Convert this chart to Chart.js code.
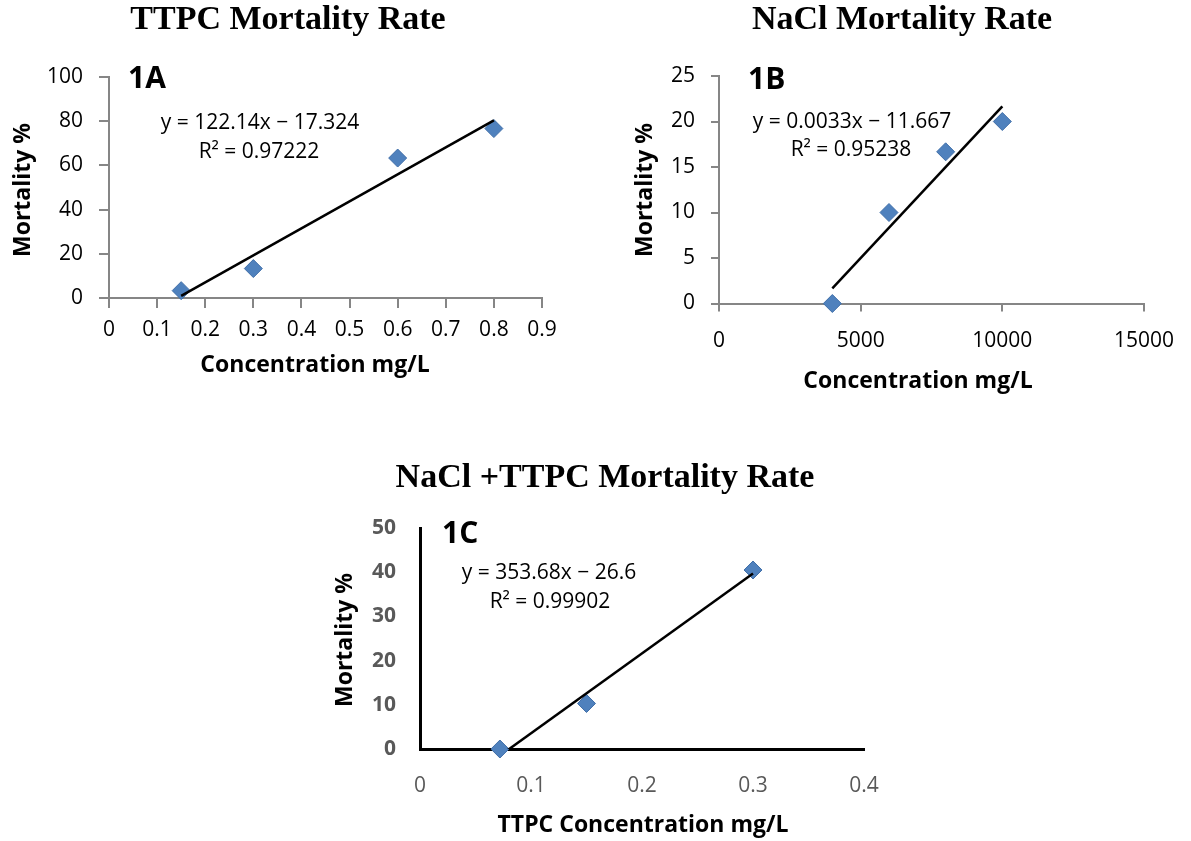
<!DOCTYPE html>
<html>
<head>
<meta charset="utf-8">
<script src="https://cdn.jsdelivr.net/npm/chart.js@4.4.1/dist/chart.umd.min.js"></script>
<style>
  html, body { margin: 0; padding: 0; background: #fff; }
  #wrap { position: relative; width: 1191px; height: 841px; }
  canvas { position: absolute; left: 0; top: 0; }
</style>
</head>
<body>
<div id="wrap">
  <canvas id="chartA" width="1191" height="841"></canvas>
  <canvas id="chartB" width="1191" height="841"></canvas>
  <canvas id="chartC" width="1191" height="841"></canvas>
</div>
<script>
// 1A - TTPC
const ttpcConc = [0.15, 0.3, 0.6, 0.8];
const ttpcMort = [3.33, 13.33, 63.33, 76.67];
const ttpcXTicks = [0, 0.1, 0.2, 0.3, 0.4, 0.5, 0.6, 0.7, 0.8, 0.9];
const ttpcYTicks = [0, 20, 40, 60, 80, 100];

// 1B - NaCl
const naclConc = [4000, 6000, 8000, 10000];
const naclMort = [0, 10, 16.67, 20];
const naclXTicks = [0, 5000, 10000, 15000];
const naclYTicks = [0, 5, 10, 15, 20, 25];

// 1C - NaCl + TTPC
const mixConc = [0.072, 0.15, 0.3];
const mixMort = [0, 10.3, 40.5];
const mixXTicks = [0, 0.1, 0.2, 0.3, 0.4];
const mixYTicks = [0, 10, 20, 30, 40, 50];

const W = 1191, H = 841;
const X_AXIS_H = 70;
const TITLE_FONT = 'bold 34px "Liberation Serif"';
const AXIS_FONT = 'bold 23px "Open Sans"';
const PANEL_FONT = 'bold 30px "Open Sans"';
const EQ_FONT = '21px "Open Sans"';

// least squares trendline, drawn between the smallest and largest x
function linFit(xs, ys) {
  const n = xs.length;
  const mx = xs.reduce((a, b) => a + b, 0) / n;
  const my = ys.reduce((a, b) => a + b, 0) / n;
  let sxy = 0, sxx = 0;
  xs.forEach((x, i) => { sxy += (x - mx) * (ys[i] - my); sxx += (x - mx) * (x - mx); });
  const m = sxy / sxx, b = my - m * mx;
  const x0 = Math.min(...xs), x1 = Math.max(...xs);
  return [{ x: x0, y: m * x0 + b }, { x: x1, y: m * x1 + b }];
}

function notesPlugin(items) {
  return {
    id: 'notes',
    afterDraw(chart) {
      const ctx = chart.ctx;
      items.forEach(it => {
        ctx.save();
        ctx.font = it.font;
        ctx.fillStyle = it.color || '#000';
        ctx.textAlign = it.align || 'center';
        ctx.textBaseline = it.baseline || 'middle';
        ctx.translate(it.x, it.y);
        if (it.rotate) ctx.rotate(it.rotate);
        ctx.fillText(it.text, 0, 0);
        ctx.restore();
      });
    }
  };
}

function buildChart(id, p) {
  const ctx = document.getElementById(id).getContext('2d');
  const points = p.xs.map((x, i) => ({ x: x, y: p.ys[i] }));
  const fmt = v => String(+v.toFixed(2));
  return new Chart(ctx, {
    type: 'scatter',
    data: {
      datasets: [
        { data: linFit(p.xs, p.ys), showLine: true, borderColor: '#000', borderWidth: 2.5,
          pointRadius: 0, order: 0, clip: 0 },
        { data: points, pointStyle: 'rectRot', pointRadius: 9, backgroundColor: '#4F81BD',
          borderColor: '#3F6EA8', borderWidth: 1, order: 1, clip: false }
      ]
    },
    options: {
      responsive: false,
      animation: false,
      events: [],
      layout: {
        padding: { left: 0, top: p.area.top, right: W - p.area.right, bottom: H - p.area.bottom - X_AXIS_H }
      },
      plugins: { legend: { display: false }, tooltip: { enabled: false } },
      scales: {
        x: {
          type: 'linear', position: 'bottom',
          min: p.xTicks[0], max: p.xTicks[p.xTicks.length - 1],
          afterFit: s => { s.height = X_AXIS_H; },
          afterBuildTicks: s => { s.ticks = p.xTicks.map(v => ({ value: v })); },
          grid: p.grid,
          border: p.border,
          ticks: { padding: p.xPad, color: p.xTickColor, font: p.xTickFont, callback: fmt, maxRotation: 0 }
        },
        y: {
          type: 'linear', position: 'left',
          min: p.yTicks[0], max: p.yTicks[p.yTicks.length - 1],
          afterFit: s => { s.width = p.area.left; },
          afterBuildTicks: s => { s.ticks = p.yTicks.map(v => ({ value: v })); },
          grid: p.grid,
          border: p.border,
          ticks: { padding: p.yPad, color: p.yTickColor, font: p.yTickFont, callback: fmt }
        }
      }
    },
    plugins: [notesPlugin(p.notes)]
  });
}

const excelGrid = len => ({ display: true, drawOnChartArea: false, drawTicks: true, tickLength: len,
  color: '#868686', lineWidth: 2 });
const excelBorder = { display: true, color: '#868686', width: 2 };
const tickFont = { family: 'Open Sans', size: 21 };

buildChart('chartA', {
  xs: ttpcConc, ys: ttpcMort, xTicks: ttpcXTicks, yTicks: ttpcYTicks,
  area: { left: 109, right: 542, top: 77, bottom: 298 },
  grid: excelGrid(10), border: excelBorder,
  xPad: 9, yPad: 16, xTickColor: '#000', yTickColor: '#000', xTickFont: tickFont, yTickFont: tickFont,
  notes: [
    { text: 'TTPC Mortality Rate', x: 288, y: 20, font: TITLE_FONT },
    { text: 'Mortality %', x: 23, y: 190, font: AXIS_FONT, rotate: -Math.PI / 2 },
    { text: 'Concentration mg/L', x: 315, y: 365, font: AXIS_FONT },
    { text: '1A', x: 128, y: 88, font: PANEL_FONT, align: 'left', baseline: 'alphabetic' },
    { text: 'y = 122.14x \u2212 17.324', x: 260, y: 123, font: EQ_FONT },
    { text: 'R\u00B2 = 0.97222', x: 259, y: 152, font: EQ_FONT }
  ]
});

buildChart('chartB', {
  xs: naclConc, ys: naclMort, xTicks: naclXTicks, yTicks: naclYTicks,
  area: { left: 719, right: 1153, top: 76, bottom: 303.5 },
  grid: excelGrid(8), border: excelBorder,
  xPad: 17, yPad: 16, xTickColor: '#000', yTickColor: '#000', xTickFont: tickFont, yTickFont: tickFont,
  notes: [
    { text: 'NaCl Mortality Rate', x: 902, y: 20, font: TITLE_FONT },
    { text: 'Mortality %', x: 645, y: 190, font: AXIS_FONT, rotate: -Math.PI / 2 },
    { text: 'Concentration mg/L', x: 918, y: 381, font: AXIS_FONT },
    { text: '1B', x: 748, y: 89, font: PANEL_FONT, align: 'left', baseline: 'alphabetic' },
    { text: 'y = 0.0033x \u2212 11.667', x: 852, y: 122, font: EQ_FONT },
    { text: 'R\u00B2 = 0.95238', x: 851, y: 150, font: EQ_FONT }
  ]
});

buildChart('chartC', {
  xs: mixConc, ys: mixMort, xTicks: mixXTicks, yTicks: mixYTicks,
  area: { left: 420, right: 864, top: 528, bottom: 749 },
  grid: { display: false, drawTicks: false }, border: { display: true, color: '#000', width: 3 },
  xPad: 24, yPad: 24, xTickColor: '#595959', yTickColor: '#595959',
  xTickFont: tickFont, yTickFont: { family: 'Open Sans', size: 21, weight: 'bold' },
  notes: [
    { text: 'NaCl +TTPC Mortality Rate', x: 605, y: 478, font: TITLE_FONT },
    { text: 'Mortality %', x: 345, y: 640, font: AXIS_FONT, rotate: -Math.PI / 2 },
    { text: 'TTPC Concentration mg/L', x: 643, y: 825, font: AXIS_FONT },
    { text: '1C', x: 442, y: 543, font: PANEL_FONT, align: 'left', baseline: 'alphabetic' },
    { text: 'y = 353.68x \u2212 26.6', x: 549, y: 573, font: EQ_FONT },
    { text: 'R\u00B2 = 0.99902', x: 550, y: 602, font: EQ_FONT }
  ]
});
</script>
</body>
</html>
